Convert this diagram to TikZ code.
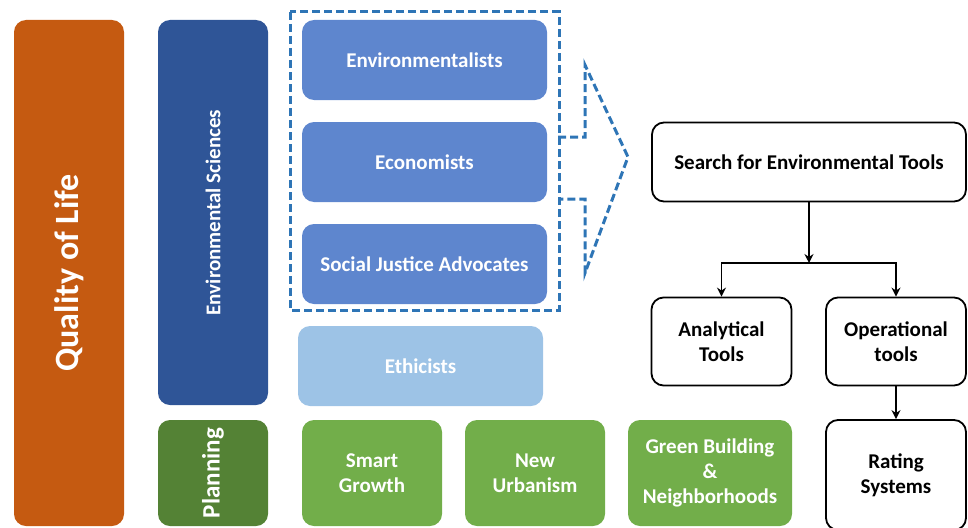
\documentclass[tikz,border=0pt]{standalone}
\usepackage{fontspec}
\setmainfont{Carlito}
\usetikzlibrary{arrows.meta}

\definecolor{qolorange}{HTML}{C55A11}
\definecolor{scidark}{HTML}{2F5597}
\definecolor{groupblue}{HTML}{5E86CE}
\definecolor{ethiclight}{HTML}{9DC3E6}
\definecolor{plandark}{HTML}{548235}
\definecolor{planlight}{HTML}{72AE4A}
\definecolor{dashblue}{HTML}{2E75B6}

\tikzset{
  colbox/.style={rounded corners=12pt, text=white, font=\bfseries\fontsize{21}{25}\selectfont, align=center, inner sep=0pt},
  toolbox/.style={draw=black, line width=1.8pt, rounded corners=12pt, fill=white, font=\bfseries\fontsize{21}{25}\selectfont, align=center, inner sep=0pt},
  conn/.style={line width=1.6pt, -{Stealth[length=9pt,width=9pt]}},
  dashline/.style={draw=dashblue, line width=3pt, dash pattern=on 8pt off 4pt}
}

\begin{document}
\begin{tikzpicture}[x=1pt,y=-1pt]
  \useasboundingbox (0,0) rectangle (968,527);

  % Tall bars on the left
  \node[colbox, fill=qolorange, rotate=90, minimum width=506pt, minimum height=110pt,
        font=\bfseries\fontsize{34}{40}\selectfont] (qol) at (69,273) {Quality of Life};
  \node[colbox, fill=scidark, rotate=90, minimum width=385pt, minimum height=110pt] (sci) at (213,212.5) {Environmental Sciences};
  \node[colbox, fill=plandark, rotate=90, minimum width=106pt, minimum height=110pt,
        font=\bfseries\fontsize{25}{30}\selectfont] (plan) at (213,473) {Planning};

  % Groups inside the environmental sciences
  \node[colbox, fill=groupblue, minimum width=245pt, minimum height=80pt] (envt) at (424.5,60) {Environmentalists};
  \node[colbox, fill=groupblue, minimum width=245pt, minimum height=80pt] (econ) at (424.5,162) {Economists};
  \node[colbox, fill=groupblue, minimum width=245pt, minimum height=80pt] (justice) at (424.5,264) {Social Justice Advocates};
  \node[colbox, fill=ethiclight, minimum width=245pt, minimum height=80pt] (ethic) at (420.5,366) {Ethicists};

  % Planning movements
  \node[colbox, fill=planlight, minimum width=140pt, minimum height=106pt] (smart) at (372,473) {Smart\\Growth};
  \node[colbox, fill=planlight, minimum width=140pt, minimum height=106pt] (urban) at (535,473) {New\\Urbanism};
  \node[colbox, fill=planlight, minimum width=164pt, minimum height=106pt] (green) at (710,473) {Green Building\\\&\\Neighborhoods};

  % Dashed frame and block arrow
  \draw[dashline] (290,12) rectangle (559,310);
  \draw[dashline] (558,137) -- (585,137) -- (585,65) -- (628,157) -- (585,273) -- (585,199) -- (558,199);

  % Tool tree
  \node[toolbox, minimum width=314pt, minimum height=79pt] (search) at (809,162) {Search for Environmental Tools};
  \node[toolbox, minimum width=140pt, minimum height=88pt] (anal) at (721.5,341.5) {Analytical\\Tools};
  \node[toolbox, minimum width=140pt, minimum height=88pt] (oper) at (896,341.5) {Operational\\tools};
  \node[toolbox, minimum width=140pt, minimum height=110pt] (rating) at (896,475) {Rating\\Systems};

  \coordinate (split) at (809,263);
  \draw[conn] (search) -- (split);
  \draw[conn] (split) -| (anal);
  \draw[conn] (split) -| (oper);
  \draw[conn] (oper) -- (rating);
\end{tikzpicture}
\end{document}
